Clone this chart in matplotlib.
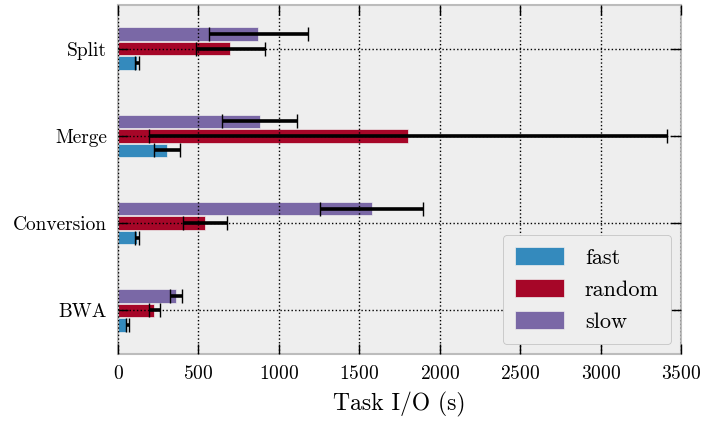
import numpy as np
import matplotlib
matplotlib.use("Agg")
import matplotlib.pyplot as plt

plt.style.use("bmh")
plt.rcParams["font.family"] = "serif"
plt.rcParams["font.serif"] = ["cmr10", "DejaVu Serif"]
plt.rcParams["axes.formatter.use_mathtext"] = True
plt.rcParams["mathtext.fontset"] = "cm"

tasks = ["BWA", "Conversion", "Merge", "Split"]
series = ["fast", "random", "slow"]
colors = ["#348ABD", "#A60628", "#7A68A6"]

fast_mean = [58, 120, 305, 120]
fast_err = [10, 12, 80, 12]
random_mean = [226, 542, 1805, 698]
random_err = [36, 135, 1610, 215]
slow_mean = [361, 1576, 880, 872]
slow_err = [36, 323, 235, 308]

means = [fast_mean, random_mean, slow_mean]
errs = [fast_err, random_err, slow_err]

fig = plt.figure(figsize=(7.04, 4.21), dpi=100)
ax = fig.add_axes([118 / 704, 1 - 354 / 421, 563 / 704, 349 / 421])
ax.set_facecolor("#eeeeee")

y = np.arange(len(tasks))
h = 1 / 6
for i, (m, e, c, name) in enumerate(zip(means, errs, colors, series)):
    ax.barh(y + (i - 1) * h, m, height=h * 0.92, color=c, edgecolor="#eeeeee",
            linewidth=0.5, label=name, zorder=2,
            xerr=e, error_kw=dict(ecolor="black", elinewidth=2.6, capsize=5,
                                  capthick=1.0, zorder=3))

ax.set_xlim(0, 3500)
ax.set_ylim(-0.5, 3.5)
ax.set_yticks(y)
ax.set_yticklabels(tasks)
ax.set_xticks(np.arange(0, 3501, 500))
ax.set_axisbelow(False)
ax.grid(True, color="black", linestyle=":", linewidth=1.0, alpha=1.0, zorder=4)
ax.tick_params(axis="both", direction="in", length=7, width=1, color="black",
               labelsize=14, pad=8, top=True, right=True, labelcolor="black")
for s in ax.spines.values():
    s.set_color("#bcbcbc")
    s.set_linewidth(1.5)

ax.set_xlabel("Task I/O (s)", fontsize=17, color="black", labelpad=6)

leg = ax.legend(loc="lower right", fontsize=16, frameon=True, fancybox=True,
                facecolor="#eeeeee", edgecolor="#bcbcbc", handlelength=2.2,
                handleheight=0.9, labelspacing=0.5, borderpad=0.55,
                handletextpad=0.95, framealpha=1, borderaxespad=0.45)
leg.set_zorder(5)

fig.savefig("out.png", dpi=100, facecolor="white")
